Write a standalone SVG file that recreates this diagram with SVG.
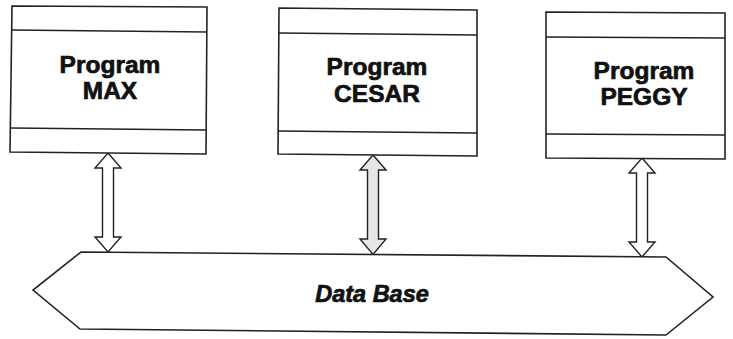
<svg xmlns="http://www.w3.org/2000/svg" width="733" height="339" viewBox="0 0 733 339">
<style>
.ln{fill:none;stroke:#222;stroke-width:1.6;stroke-linejoin:miter}
.box{fill:#fff;stroke:#222;stroke-width:1.6}
.t{font-family:"Liberation Sans",Arial,sans-serif;font-weight:bold;font-size:24.5px;fill:#111;stroke:#111;stroke-width:0.7;text-anchor:middle}
.db{font-family:"Liberation Sans",Arial,sans-serif;font-weight:bold;font-style:italic;font-size:23.5px;fill:#111;stroke:#111;stroke-width:0.7;text-anchor:middle}
.arr{fill:#fff;stroke:#222;stroke-width:1.4;stroke-linejoin:miter}
.arr.g{fill:#e6e6e6}
</style>
<rect width="733" height="339" fill="#fff"/>
<g id="connectors">
<path class="arr" d="M108,153 L121,168 L113.5,168 L113.5,237 L121,237 L108,252 L95,237 L102.5,237 L102.5,168 L95,168 Z"/>
<path class="arr g" d="M373,155 L386,170 L378.5,170 L378.5,239 L386,239 L373,254.5 L360,239 L367.5,239 L367.5,170 L360,170 Z"/>
<path class="arr" d="M642,158 L655,173 L647.5,173 L647.5,242 L655,242 L642,257 L629,242 L636.5,242 L636.5,173 L629,173 Z"/>
</g>
<g id="program-max">
<polygon class="box" points="12,6 207,7 206,154 10,152"/>
<line class="ln" x1="11.5" y1="30" x2="207" y2="32"/>
<line class="ln" x1="10.5" y1="128" x2="206" y2="130"/>
<text class="t" x="110" y="73">Program</text>
<text class="t" x="110" y="99">MAX</text>
</g>
<g id="program-cesar">
<polygon class="box" points="279,8 477,10 477,156 278,154"/>
<line class="ln" x1="279" y1="33" x2="477" y2="35"/>
<line class="ln" x1="278" y1="131" x2="477" y2="133"/>
<text class="t" x="377" y="75">Program</text>
<text class="t" x="377" y="102">CESAR</text>
</g>
<g id="program-peggy">
<polygon class="box" points="546,12 725,13 725,159 546,158"/>
<line class="ln" x1="546" y1="37" x2="725" y2="38"/>
<line class="ln" x1="546" y1="134" x2="725" y2="135"/>
<text class="t" x="644" y="79">Program</text>
<text class="t" x="644" y="105">PEGGY</text>
</g>
<g id="data-base">
<polygon class="box" points="81,252 666,257 713,297 666,335 80,329 33,290"/>
<text class="db" x="372" y="302">Data Base</text>
</g>
</svg>
